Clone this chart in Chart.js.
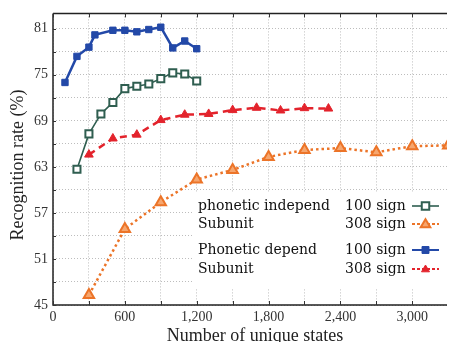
<!DOCTYPE html>
<html>
<head>
<meta charset="utf-8">
<script src="https://cdn.jsdelivr.net/npm/chart.js@4"></script>
<style>
  html, body { margin: 0; padding: 0; background: #fff; overflow: hidden; }
  #wrap { width: 455px; height: 342px; position: relative; }
</style>
</head>
<body>
<div id="wrap"><canvas id="c" width="455" height="342"></canvas></div>
<script>
// values
var depX100 = [100, 200, 300, 350, 500, 600, 700, 800, 900, 1000, 1100, 1200];
var dep100  = [74.0, 77.4, 78.6, 80.2, 80.8, 80.8, 80.6, 80.9, 81.2, 78.5, 79.4, 78.4];
var indX100 = [200, 300, 400, 500, 600, 700, 800, 900, 1000, 1100, 1200];
var ind100  = [62.7, 67.3, 69.9, 71.4, 73.2, 73.5, 73.8, 74.5, 75.25, 75.1, 74.2];
var depX308 = [300, 500, 700, 900, 1100, 1300, 1500, 1700, 1900, 2100, 2300];
var dep308  = [64.6, 66.7, 67.2, 69.1, 69.8, 69.9, 70.4, 70.7, 70.35, 70.65, 70.6];
var indX308 = [300, 600, 900, 1200, 1500, 1800, 2100, 2400, 2700, 3000, 3300];
var ind308  = [46.3, 54.9, 58.4, 61.35, 62.6, 64.3, 65.2, 65.45, 64.9, 65.7, 65.8];

var xTicks = [0, 300, 600, 900, 1200, 1500, 1800, 2100, 2400, 2700, 3000];
var yTicks = [45, 48, 51, 54, 57, 60, 63, 66, 69, 72, 75, 78, 81];
var xTitle = 'Number of unique states';
var yTitle = 'Recognition rate (%)';
var legendRows = [
  { name: 'phonetic independ', sign: '100 sign', ds: 1 },
  { name: 'Subunit', sign: '308 sign', ds: 3 },
  { name: 'Phonetic depend', sign: '100 sign', ds: 0 },
  { name: 'Subunit', sign: '308 sign', ds: 2 }
];

var SERIF = '"Liberation Serif", "DejaVu Serif", serif';
var WIDE_SERIF = '"DejaVu Serif", "Liberation Serif", serif';
var BLUE = '#2349a8', GREEN = '#2f5e50', RED = '#e3232c', ORANGE = '#ec7428';

function pts(xs, ys) {
  return xs.map(function (x, i) { return { x: x, y: ys[i] }; });
}

var datasets = [
  { label: 'Phonetic depend 100', data: pts(depX100, dep100), borderColor: BLUE, backgroundColor: BLUE,
    borderWidth: 2.5, pointStyle: 'rect', pointRadius: 4.5, pointBorderWidth: 1 },
  { label: 'phonetic independ 100', data: pts(indX100, ind100), borderColor: GREEN, backgroundColor: '#ffffff',
    borderWidth: 1.6, pointStyle: 'rect', pointRadius: 5, pointBorderWidth: 2 },
  { label: 'Phonetic depend 308', data: pts(depX308, dep308), borderColor: RED, backgroundColor: RED,
    borderWidth: 2.5, borderDash: [7, 5], pointStyle: 'triangle', pointRadius: 5, pointBorderWidth: 1 },
  { label: 'phonetic independ 308', data: pts(indX308, ind308), borderColor: ORANGE, backgroundColor: '#f6a66e',
    borderWidth: 2.5, borderDash: [2.5, 3], pointStyle: 'triangle', pointRadius: 6, pointBorderWidth: 2 }
];
datasets.forEach(function (d) {
  d.pointBorderColor = d.borderColor;
  d.pointBackgroundColor = d.backgroundColor;
  d.tension = 0; d.fill = false;
});

var framePlugin = {
  id: 'frame',
  afterDraw: function (chart) {
    var ctx = chart.ctx, a = chart.chartArea;
    var xs = chart.scales.x, ys = chart.scales.y;
    ctx.save();
    ctx.strokeStyle = '#222'; ctx.lineWidth = 1.5;
    ctx.beginPath();
    ctx.moveTo(a.left, a.top); ctx.lineTo(a.right, a.top);
    ctx.moveTo(a.left, a.top); ctx.lineTo(a.left, a.bottom);
    ctx.lineTo(a.right, a.bottom);
    ctx.stroke();
    // inward tick marks, top and bottom
    ctx.lineWidth = 1; ctx.strokeStyle = '#333';
    xTicks.forEach(function (v) {
      var px = Math.round(xs.getPixelForValue(v)) + 0.5;
      ctx.beginPath();
      ctx.moveTo(px, a.top); ctx.lineTo(px, a.top + 4);
      ctx.moveTo(px, a.bottom); ctx.lineTo(px, a.bottom - 4);
      ctx.stroke();
    });
    yTicks.forEach(function (v) {
      var py = Math.round(ys.getPixelForValue(v)) + 0.5;
      ctx.beginPath();
      ctx.moveTo(a.left, py); ctx.lineTo(a.left + 3, py);
      ctx.stroke();
    });

    // axis titles
    ctx.fillStyle = '#222';
    ctx.font = '18px ' + SERIF;
    ctx.textAlign = 'center'; ctx.textBaseline = 'alphabetic';
    ctx.fillText(xTitle, 255, 341);
    ctx.translate(23, 165);
    ctx.rotate(-Math.PI / 2);
    ctx.fillText(yTitle, 0, 0);
    ctx.restore();

    // legend box
    ctx.save();
    ctx.fillStyle = '#ffffff';
    ctx.fillRect(193, 192, 262, 96);
    ctx.font = '14px ' + WIDE_SERIF;
    ctx.textBaseline = 'middle'; ctx.textAlign = 'left';
    var rowY = [206, 224, 250, 269];
    legendRows.forEach(function (r, i) {
      var y = rowY[i];
      var d = chart.data.datasets[r.ds];
      ctx.fillStyle = '#111';
      ctx.fillText(r.name, 198, y);
      ctx.fillText(r.sign, 345, y);
      ctx.strokeStyle = d.borderColor;
      ctx.lineWidth = Math.min(d.borderWidth, 2);
      ctx.setLineDash(d.borderDash ? [3, 2] : []);
      ctx.beginPath(); ctx.moveTo(412, y); ctx.lineTo(439, y); ctx.stroke();
      ctx.setLineDash([]);
      var cx = 425.5;
      ctx.fillStyle = d.backgroundColor;
      ctx.lineWidth = d.pointBorderWidth;
      ctx.beginPath();
      if (d.pointStyle === 'rect') {
        var s = d.pointRadius * 1.1;
        ctx.rect(cx - s / 2 - 1, y - s / 2 - 1, s + 2, s + 2);
      } else {
        var h = d.pointRadius * 0.8;
        ctx.moveTo(cx, y - h); ctx.lineTo(cx + h, y + h * 0.7); ctx.lineTo(cx - h, y + h * 0.7); ctx.closePath();
      }
      ctx.fill(); ctx.stroke();
    });
    ctx.restore();
  }
};

new Chart(document.getElementById('c'), {
  type: 'line',
  data: { datasets: datasets },
  plugins: [framePlugin],
  options: {
    responsive: false, animation: false,
    layout: { padding: { top: 13, left: 0, right: 0, bottom: 0 } },
    plugins: { legend: { display: false }, tooltip: { enabled: false } },
    scales: {
      x: {
        type: 'linear', min: 0, max: 3290,
        afterBuildTicks: function (axis) { axis.ticks = xTicks.map(function (v) { return { value: v }; }); },
        afterFit: function (axis) { axis.height = 37; },
        grid: { color: '#bdbdbd', lineWidth: 1, drawTicks: false, tickLength: 0 },
        border: { display: false, dash: [1, 2] },
        ticks: {
          padding: 4, color: '#333', maxRotation: 0, autoSkip: false,
          font: { family: SERIF, size: 14 },
          callback: function (v) { return v % 600 === 0 ? v.toLocaleString('en-US') : ''; }
        }
      },
      y: {
        type: 'linear', min: 45, max: 83,
        afterBuildTicks: function (axis) { axis.ticks = yTicks.map(function (v) { return { value: v }; }); },
        afterFit: function (axis) { axis.width = 53; },
        grid: { color: '#bdbdbd', lineWidth: 1, drawTicks: false, tickLength: 0 },
        border: { display: false, dash: [1, 2] },
        ticks: {
          padding: 5, color: '#333', autoSkip: false,
          font: { family: SERIF, size: 14 },
          callback: function (v) { return (v - 45) % 6 === 0 ? String(v) : ''; }
        }
      }
    }
  }
});
</script>
</body>
</html>
